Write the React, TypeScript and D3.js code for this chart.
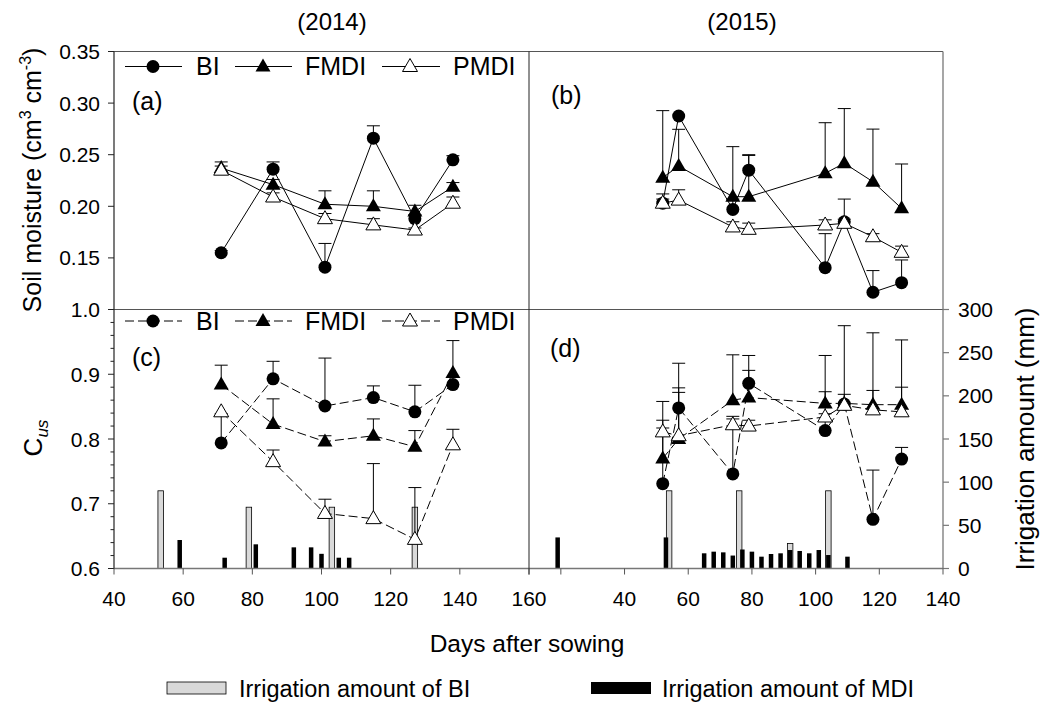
import React from "react";
import * as d3 from "d3";

// ---------------- DATA ----------------
const days2014 = [71, 86, 101, 115, 127, 138];
const days2015 = [52, 57, 74, 79, 103, 109, 118, 127];

// Soil moisture (cm3 cm-3)
const smBI2014 = [0.155, 0.236, 0.141, 0.266, 0.188, 0.245];
const smBI2014Err = [0.002, 0.007, 0.023, 0.012, 0.004, 0.004];
const smFMDI2014 = [0.237, 0.221, 0.202, 0.2, 0.195, 0.219];
const smFMDI2014Err = [0.006, 0.005, 0.013, 0.015, 0.006, 0.004];
const smPMDI2014 = [0.235, 0.209, 0.188, 0.182, 0.177, 0.203];
const smPMDI2014Err = [0.004, 0.004, 0.005, 0.006, 0.002, 0.006];

const smBI2015 = [0.203, 0.2875, 0.197, 0.235, 0.1405, 0.185, 0.1167, 0.126];
const smBI2015Err = [0.004, 0.0, 0.01, 0.015, 0.033, 0.022, 0.021, 0.022];
const smFMDI2015 = [0.2277, 0.239, 0.2093, 0.2093, 0.232, 0.2417, 0.2238, 0.198];
const smFMDI2015Err = [0.065, 0.0356, 0.0485, 0.04, 0.049, 0.053, 0.051, 0.043];
const smPMDI2015 = [0.203, 0.206, 0.18, 0.1777, 0.1819, 0.1835, 0.1705, 0.1554];
const smPMDI2015Err = [0.009, 0.01, 0.005, 0.006, 0.005, 0.004, 0.003, 0.006];

// Cus
const cuBI2014 = [0.794, 0.893, 0.851, 0.864, 0.842, 0.884];
const cuBI2014Err = [0.045, 0.027, 0.074, 0.018, 0.041, 0.0];
const cuFMDI2014 = [0.884, 0.823, 0.796, 0.805, 0.788, 0.902];
const cuFMDI2014Err = [0.03, 0.039, 0.009, 0.026, 0.025, 0.05];
const cuPMDI2014 = [0.842, 0.765, 0.685, 0.677, 0.645, 0.791];
const cuPMDI2014Err = [0.0, 0.018, 0.022, 0.085, 0.08, 0.024];

const cuBI2015 = [0.731, 0.848, 0.746, 0.886, 0.813, 0.854, 0.676, 0.769];
const cuBI2015Err = [0.098, 0.069, 0.085, 0.043, 0.06, 0.015, 0.076, 0.018];
const cuFMDI2015 = [0.77, 0.8, 0.86, 0.864, 0.855, 0.855, 0.853, 0.853];
const cuFMDI2015Err = [0.088, 0.072, 0.07, 0.042, 0.074, 0.12, 0.111, 0.1];
const cuPMDI2015 = [0.811, 0.805, 0.822, 0.82, 0.834, 0.852, 0.845, 0.842];
const cuPMDI2015Err = [0.006, 0.074, 0.013, 0.009, 0.005, 0.0, 0.03, 0.038];

// Irrigation amount (mm)
const biIrrDays2014 = [53.5, 79, 103, 127];
const biIrrAmt2014 = [90, 71, 71, 71];
const mdiIrrDays2014 = [59, 72, 81, 92, 97, 100, 105, 108];
const mdiIrrAmt2014 = [33, 12.5, 28, 24.5, 24.5, 17, 12.5, 12.5];
const biIrrDays2015 = [54, 76, 92, 104];
const biIrrAmt2015 = [90, 90, 29, 90];
const mdiIrrDays2015 = [19, 53, 65, 68, 71, 74, 77, 80, 83, 86, 89, 92, 95, 98, 101, 104, 110];
const mdiIrrAmt2015 = [36, 36, 17.6, 19.5, 18.7, 15, 22, 19.5, 13.7, 16.8, 17.6, 21.4, 20.3, 17.6, 21.4, 15.6, 13.7];

// Ticks
const smTicks = [0.15, 0.2, 0.25, 0.3, 0.35];
const smTickLabels = ["0.15", "0.20", "0.25", "0.30", "0.35"];
const cuTicks = [0.6, 0.7, 0.8, 0.9, 1.0];
const cuTickLabels = ["0.6", "0.7", "0.8", "0.9", "1.0"];
const irrTicks = [0, 50, 100, 150, 200, 250, 300];
const xTicks2014 = [40, 60, 80, 100, 120, 140, 160];
const xTicks2015 = [20, 40, 60, 80, 100, 120, 140];
const xLabels2015 = ["", "40", "60", "80", "100", "120", "140"];
const seriesNames = ["BI", "FMDI", "PMDI"];

// ---------------- LAYOUT ----------------
const L = 114, MID = 529, R = 943, TOP = 51.5, MIDY = 309.5, BOT = 568.5;
const FONT = "Liberation Sans, Arial, Helvetica, sans-serif";
const SX = 1;

const xL = d3.scaleLinear().domain([40, 160]).range([L, MID]);
const xR = d3.scaleLinear().domain([10, 140]).range([MID, R]);
const ySM = d3.scaleLinear().domain([0.1, 0.35]).range([MIDY, TOP]);
const yCU = d3.scaleLinear().domain([0.6, 1.0]).range([BOT, MIDY]);
const yIR = d3.scaleLinear().domain([0, 300]).range([BOT, MIDY]);

function T({ x, y, size, anchor = "start", rotate = 0, sx = SX, children }: any) {
  const tr = `translate(${x},${y}) scale(${sx},1)` + (rotate ? ` rotate(${rotate})` : "");
  return (
    <text transform={tr} fontSize={size} textAnchor={anchor} fontFamily={FONT} fill="#000">
      {children}
    </text>
  );
}

function Marker({ type, x, y }: any) {
  if (type === "circle") return <circle cx={x} cy={y} r={6.5} fill="#000" />;
  const p = `M${x},${y - 8}L${x + 7.5},${y + 5}L${x - 7.5},${y + 5}Z`;
  if (type === "tri") return <path d={p} fill="#000" />;
  return <path d={p} fill="#fff" stroke="#000" strokeWidth={1} />;
}

const markerTypes = ["circle", "tri", "open"];

function Panel({ days, sets, x, y, dashed }: any) {
  const line = d3.line<number>().x((_, i) => x(days[i])).y((v) => y(v));
  const dash = dashed ? "9,4" : undefined;
  const order = [1, 0, 2];
  return (
    <g>
      {sets.map((s: any, k: number) => (
        <path key={"l" + k} d={line(s.vals) || ""} fill="none" stroke="#000" strokeWidth={1} strokeDasharray={dash} />
      ))}
      {sets.map((s: any, k: number) =>
        s.vals.map((v: number, i: number) =>
          s.errs[i] > 0 ? (
            <g key={"e" + k + "_" + i} stroke="#000" strokeWidth={1}>
              <line x1={x(days[i])} x2={x(days[i])} y1={y(v)} y2={y(v + s.errs[i])} />
              <line x1={x(days[i]) - 6.5} x2={x(days[i]) + 6.5} y1={y(v + s.errs[i])} y2={y(v + s.errs[i])} />
            </g>
          ) : null
        )
      )}
      {order.map((k) =>
        sets[k].vals.map((v: number, i: number) => (
          <Marker key={"m" + k + "_" + i} type={markerTypes[k]} x={x(days[i])} y={y(v)} />
        ))
      )}
    </g>
  );
}

function Bars({ biDays, biAmt, mdiDays, mdiAmt, x }: any) {
  return (
    <g>
      {biDays.map((d: number, i: number) => (
        <rect key={"b" + i} x={x(d) - 2.75} width={5.5} y={yIR(biAmt[i])} height={BOT - yIR(biAmt[i])}
          fill="#d9d9d9" stroke="#000" strokeWidth={0.8} />
      ))}
      {mdiDays.map((d: number, i: number) => (
        <rect key={"m" + i} x={x(d) - 2.25} width={4.5} y={yIR(mdiAmt[i])} height={BOT - yIR(mdiAmt[i])} fill="#000" />
      ))}
    </g>
  );
}

function Legend({ y, dashed }: any) {
  const items = [
    { x1: 125, x2: 182, mx: 153, tx: 196 },
    { x1: 235, x2: 292, mx: 263, tx: 305 },
    { x1: 382, x2: 440, mx: 410, tx: 453 },
  ];
  return (
    <g>
      {items.map((it, k) => (
        <g key={k}>
          <line x1={it.x1} x2={it.x2} y1={y} y2={y} stroke="#000" strokeWidth={1} strokeDasharray={dashed ? "9,4" : undefined} />
          <Marker type={markerTypes[k]} x={it.mx} y={y} />
          <T x={it.tx} y={y + 8.8} size={25}>{seriesNames[k]}</T>
        </g>
      ))}
    </g>
  );
}

export default function App() {
  const frame = "#555";
  return (
    <svg width={1044} height={704} style={{ position: "absolute", left: 0, top: 0, background: "#fff" }}>
      <rect width={1044} height={704} fill="#fff" />
      {/* titles */}
      <T x={332} y={30} size={24} anchor="middle">(2014)</T>
      <T x={742} y={30} size={24} anchor="middle">(2015)</T>

      {/* bars */}
      <Bars biDays={biIrrDays2014} biAmt={biIrrAmt2014} mdiDays={mdiIrrDays2014} mdiAmt={mdiIrrAmt2014} x={xL} />
      <Bars biDays={biIrrDays2015} biAmt={biIrrAmt2015} mdiDays={mdiIrrDays2015} mdiAmt={mdiIrrAmt2015} x={xR} />

      {/* frame */}
      <g fill="none">
        <line x1={L} x2={R} y1={TOP} y2={TOP} stroke={frame} strokeWidth={1.2} />
        <line x1={L} x2={R} y1={MIDY} y2={MIDY} stroke={frame} strokeWidth={1.2} />
        <line x1={L} x2={R} y1={BOT} y2={BOT} stroke="#777" strokeWidth={1.5} />
        <line x1={R} x2={R} y1={TOP} y2={BOT} stroke="#777" strokeWidth={1.3} />
        <line x1={MID} x2={MID} y1={TOP} y2={BOT + 6} stroke="#222" strokeWidth={1} />
        <line x1={L} x2={L} y1={TOP} y2={BOT} stroke="#222" strokeWidth={1.2} />
      </g>

      {/* left axis ticks */}
      {smTicks.map((v, i) => (
        <g key={"st" + i}>
          <line x1={L - 6} x2={L} y1={ySM(v)} y2={ySM(v)} stroke="#222" />
          <T x={100} y={ySM(v) + 7.5} size={21} anchor="end">{smTickLabels[i]}</T>
        </g>
      ))}
      {d3.range(0, 21).map((i) => {
        const v = 0.6 + i * 0.02;
        const major = i % 5 === 0;
        return <line key={"cm" + i} x1={L - (major ? 6 : 3.5)} x2={L} y1={yCU(v)} y2={yCU(v)} stroke="#222" />;
      })}
      {cuTicks.map((v, i) => (
        <T key={"ct" + i} x={100} y={yCU(v) + 7.5} size={21} anchor="end">{cuTickLabels[i]}</T>
      ))}

      {/* right axis */}
      {irrTicks.map((v, i) => (
        <g key={"it" + i}>
          <line x1={R} x2={R + 6} y1={yIR(v)} y2={yIR(v)} stroke="#777" strokeWidth={1.2} />
          <T x={958} y={yIR(v) + 7.5} size={21}>{String(v)}</T>
        </g>
      ))}

      {/* bottom axis */}
      {xTicks2014.map((v, i) => (
        <g key={"xl" + i}>
          <line x1={xL(v)} x2={xL(v)} y1={BOT} y2={BOT + 6} stroke="#555" />
          <T x={xL(v)} y={606} size={21} anchor="middle">{String(v)}</T>
        </g>
      ))}
      {xTicks2015.map((v, i) => (
        <g key={"xr" + i}>
          <line x1={xR(v)} x2={xR(v)} y1={BOT} y2={BOT + 6} stroke="#555" />
          <T x={xR(v)} y={606} size={21} anchor="middle">{xLabels2015[i]}</T>
        </g>
      ))}

      {/* data */}
      <Panel days={days2014} x={xL} y={ySM} sets={[
        { vals: smBI2014, errs: smBI2014Err },
        { vals: smFMDI2014, errs: smFMDI2014Err },
        { vals: smPMDI2014, errs: smPMDI2014Err },
      ]} />
      <Panel days={days2015} x={xR} y={ySM} sets={[
        { vals: smBI2015, errs: smBI2015Err },
        { vals: smFMDI2015, errs: smFMDI2015Err },
        { vals: smPMDI2015, errs: smPMDI2015Err },
      ]} />
      <Panel days={days2014} x={xL} y={yCU} dashed sets={[
        { vals: cuBI2014, errs: cuBI2014Err },
        { vals: cuFMDI2014, errs: cuFMDI2014Err },
        { vals: cuPMDI2014, errs: cuPMDI2014Err },
      ]} />
      <Panel days={days2015} x={xR} y={yCU} dashed sets={[
        { vals: cuBI2015, errs: cuBI2015Err },
        { vals: cuFMDI2015, errs: cuFMDI2015Err },
        { vals: cuPMDI2015, errs: cuPMDI2015Err },
      ]} />

      {/* legends */}
      <Legend y={66.5} />
      <Legend y={321} dashed />

      {/* panel letters */}
      <T x={132} y={110} size={25}>(a)</T>
      <T x={551} y={104} size={25}>(b)</T>
      <T x={132} y={366} size={25}>(c)</T>
      <T x={550} y={357} size={25}>(d)</T>

      {/* axis titles */}
      <g transform="translate(41,180) rotate(-90)">
        <text textAnchor="middle" fontSize={25} fontFamily={FONT}>
          Soil moisture (cm<tspan dy={-10} fontSize={16}>3</tspan>
          <tspan dy={10}> cm</tspan>
          <tspan dy={-10} fontSize={16}>-3</tspan>
          <tspan dy={10}>)</tspan>
        </text>
      </g>
      <g transform="translate(42,438) rotate(-90)">
        <text textAnchor="middle" fontSize={26} fontFamily={FONT}>
          C<tspan dy={6} fontSize={17} fontStyle="italic">us</tspan>
        </text>
      </g>
      <g transform="translate(1034,439) rotate(-90)">
        <text textAnchor="middle" fontSize={26} fontFamily={FONT}>Irrigation amount (mm)</text>
      </g>
      <T x={527} y={652} size={24.5} anchor="middle">Days after sowing</T>

      {/* bottom legend */}
      <rect x={167} y={682} width={59} height={12} fill="#d9d9d9" stroke="#000" strokeWidth={0.8} />
      <T x={239} y={697} size={23.5}>Irrigation amount of BI</T>
      <rect x={591} y={682} width={60} height={12} fill="#000" />
      <T x={662} y={697} size={23.5}>Irrigation amount of MDI</T>
    </svg>
  );
}
